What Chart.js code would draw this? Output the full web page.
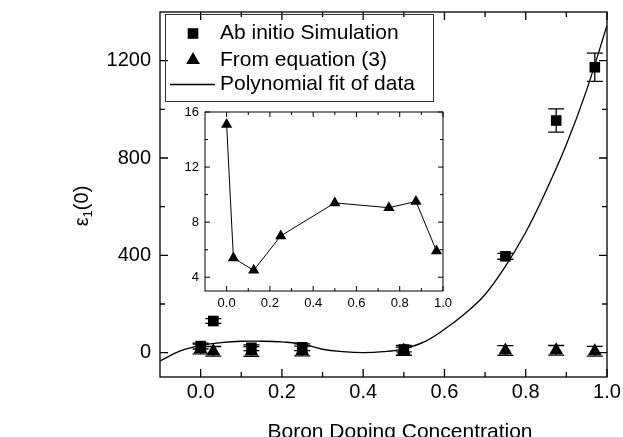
<!DOCTYPE html>
<html>
<head>
<meta charset="utf-8">
<script src="https://cdn.jsdelivr.net/npm/chart.js@4/dist/chart.umd.min.js"></script>
<style>
  html, body { margin: 0; padding: 0; background: #fff; overflow: hidden; }
  #wrap { position: relative; width: 623px; height: 437px; overflow: hidden; }
  #main { position: absolute; left: 0; top: 0; }
  #inset { position: absolute; left: 150px; top: 100px; }
</style>
</head>
<body>
<div id="wrap">
  <canvas id="main" width="623" height="445"></canvas>
  <canvas id="inset" width="310" height="220"></canvas>
</div>
<script>
// boron concentration of the simulated structures
const concentration = [0.0, 0.03125, 0.125, 0.25, 0.5, 0.75, 0.875, 0.97];
const abInitio = [27, 130, 20, 22, 13, 396, 954, 1173];
const abInitioErr = [12, 10, 12, 14, 10, 12, 48, 58];
const fromEquation = [15.1, 5.4, 4.5, 7.0, 9.4, 9.05, 9.5, 5.9];
const fromEquationErr = [20, 20, 20, 20, 20, 20, 20, 20];

// polynomial fit
const fitX = [-0.1, -0.05, 0, 0.05, 0.1, 0.15, 0.2, 0.25, 0.3, 0.35, 0.4, 0.45, 0.5,
              0.55, 0.6, 0.65, 0.7, 0.75, 0.8, 0.85, 0.9, 0.95, 1.0];
const fitY = [-34, 7, 30, 41, 47, 47, 44, 36, 14, 4, 0, 4, 16,
              44, 96, 160, 239, 355, 495, 665, 855, 1080, 1345];

const xTicks = [0, 0.2, 0.4, 0.6, 0.8, 1.0];
const xMinor = [0.1, 0.3, 0.5, 0.7, 0.9];
const yTicks = [0, 400, 800, 1200];
const yMinor = [200, 600, 1000];
const insetYTicks = [4, 8, 12, 16];
const insetYMinor = [6, 10, 14];

const FONT = '"Liberation Sans", Arial, Helvetica, sans-serif';
Chart.defaults.font.family = FONT;
Chart.defaults.color = '#000';

function pts(xs, ys) {
    return xs.map((x, i) => ({ x: x, y: ys[i] }));
}

// fixed axis boxes so the plot area lands where the original is
function fixSize(prop, size) {
    return s => {
        s[prop] = size;
        s.paddingTop = 0; s.paddingBottom = 0;
        s.paddingLeft = 0; s.paddingRight = 0;
    };
}

// vertical error bars with caps, drawn under the markers
const errorBars = {
    id: 'errorBars',
    beforeDatasetsDraw(chart) {
        const ctx = chart.ctx;
        const y = chart.scales.y;
        chart.data.datasets.forEach((ds, i) => {
            if (!ds.errors) return;
            const meta = chart.getDatasetMeta(i);
            ctx.save();
            ctx.strokeStyle = '#000';
            ctx.lineWidth = 1.3;
            meta.data.forEach((pt, j) => {
                const v = ds.data[j].y, e = ds.errors[j];
                const top = y.getPixelForValue(v + e);
                const bot = y.getPixelForValue(v - e);
                ctx.beginPath();
                ctx.moveTo(pt.x, top); ctx.lineTo(pt.x, bot);
                ctx.moveTo(pt.x - 8, top); ctx.lineTo(pt.x + 8, top);
                ctx.moveTo(pt.x - 8, bot); ctx.lineTo(pt.x + 8, bot);
                ctx.stroke();
            });
            ctx.restore();
        });
    }
};

// closed box with inward ticks on all four sides
const frame = {
    id: 'frame',
    afterDraw(chart, args, o) {
        const { ctx, chartArea: a, scales: { x, y } } = chart;
        ctx.save();
        ctx.strokeStyle = '#000';
        ctx.lineWidth = o.lineWidth;
        ctx.strokeRect(a.left, a.top, a.right - a.left, a.bottom - a.top);
        ctx.beginPath();
        const xt = (vals, len) => vals.forEach(v => {
            const p = x.getPixelForValue(v);
            ctx.moveTo(p, a.bottom); ctx.lineTo(p, a.bottom - len);
            ctx.moveTo(p, a.top); ctx.lineTo(p, a.top + len);
        });
        const yt = (vals, len) => vals.forEach(v => {
            const p = y.getPixelForValue(v);
            ctx.moveTo(a.left, p); ctx.lineTo(a.left + len, p);
            ctx.moveTo(a.right, p); ctx.lineTo(a.right - len, p);
        });
        xt(o.xMajor, o.major);
        xt(o.xMinor, o.minor);
        yt(o.yMajor, o.major);
        yt(o.yMinor, o.minor);
        ctx.stroke();
        ctx.restore();
    }
};

const boxLegend = {
    id: 'boxLegend',
    afterDraw(chart) {
        const ctx = chart.ctx;
        const rows = [33.5, 60, 84.5];
        ctx.save();
        ctx.strokeStyle = '#333';
        ctx.lineWidth = 1;
        ctx.strokeRect(165.5, 14.5, 268, 87);
        ctx.fillStyle = '#000';
        ctx.strokeStyle = '#000';
        ctx.font = '21px ' + FONT;
        ctx.textBaseline = 'middle';
        chart.data.datasets.forEach((ds, i) => {
            const ry = rows[i];
            if (ds.showLine) {
                ctx.lineWidth = 1.3;
                ctx.beginPath();
                ctx.moveTo(170, ry); ctx.lineTo(215, ry);
                ctx.stroke();
            } else {
                Chart.helpers.drawPoint(ctx, {
                    pointStyle: ds.pointStyle, radius: ds.pointRadius, borderWidth: 0, rotation: 0
                }, 193, ry);
            }
            ctx.fillText(ds.label, 220, ry);
        });
        ctx.restore();
    }
};

const axisTitles = {
    id: 'axisTitles',
    afterDraw(chart) {
        const ctx = chart.ctx;
        ctx.save();
        ctx.fillStyle = '#000';
        ctx.font = '21px ' + FONT;
        ctx.textAlign = 'center';
        ctx.textBaseline = 'middle';
        ctx.fillText('Boron Doping Concentration', 400, 432);

        ctx.translate(82, 206);
        ctx.rotate(-Math.PI / 2);
        ctx.textAlign = 'left';
        ctx.font = '20px ' + FONT;
        const wE = ctx.measureText('ε').width;
        const wP = ctx.measureText('(0)').width;
        ctx.font = '13px ' + FONT;
        const wS = ctx.measureText('1').width;
        let cx = -(wE + wS + wP) / 2;
        ctx.font = '20px ' + FONT;
        ctx.fillText('ε', cx, 0);
        cx += wE;
        ctx.font = '13px ' + FONT;
        ctx.fillText('1', cx, 6);
        cx += wS;
        ctx.font = '20px ' + FONT;
        ctx.fillText('(0)', cx, 0);
        ctx.restore();
    }
};

new Chart(document.getElementById('main'), {
    type: 'scatter',
    data: {
        datasets: [{
            label: 'Ab initio Simulation',
            data: pts(concentration, abInitio),
            errors: abInitioErr,
            pointStyle: 'rect',
            pointRadius: 7.5,
            pointBorderWidth: 0,
            backgroundColor: '#000',
            borderColor: '#000',
            showLine: false
        }, {
            label: 'From equation (3)',
            data: pts(concentration, fromEquation),
            errors: fromEquationErr,
            pointStyle: 'triangle',
            pointRadius: 8,
            pointBorderWidth: 0,
            backgroundColor: '#000',
            borderColor: '#000',
            showLine: false
        }, {
            label: 'Polynomial fit of data',
            data: pts(fitX, fitY),
            showLine: true,
            pointRadius: 0,
            borderColor: '#000',
            borderWidth: 1.3,
            tension: 0.4,
            fill: false
        }]
    },
    options: {
        responsive: false,
        animation: false,
        events: [],
        layout: { padding: { left: 0, right: 16, top: 12, bottom: 0 } },
        plugins: {
            legend: { display: false },
            tooltip: { enabled: false },
            frame: { lineWidth: 1.3, major: 8, minor: 5, xMajor: xTicks, xMinor: xMinor, yMajor: yTicks, yMinor: yMinor }
        },
        scales: {
            x: {
                type: 'linear', min: -0.1, max: 1.0,
                grid: { display: false, drawTicks: false },
                border: { display: false },
                afterBuildTicks: s => { s.ticks = xTicks.map(v => ({ value: v })); },
                afterFit: fixSize('height', 68),
                ticks: { font: { size: 20 }, padding: 3, maxRotation: 0, callback: v => v.toFixed(1) }
            },
            y: {
                type: 'linear', min: -100, max: 1400,
                grid: { display: false, drawTicks: false },
                border: { display: false },
                afterBuildTicks: s => { s.ticks = yTicks.map(v => ({ value: v })); },
                afterFit: fixSize('width', 160),
                ticks: { font: { size: 20 }, padding: 9, callback: v => String(v) }
            }
        }
    },
    plugins: [errorBars, frame, boxLegend, axisTitles]
});

// inset: equation (3) values on their own scale
new Chart(document.getElementById('inset'), {
    type: 'scatter',
    data: {
        datasets: [{
            label: 'From equation (3)',
            data: pts(concentration, fromEquation),
            showLine: true,
            tension: 0,
            borderColor: '#000',
            borderWidth: 1,
            backgroundColor: '#000',
            pointStyle: 'triangle',
            pointRadius: 6.5,
            pointBorderWidth: 0
        }]
    },
    options: {
        responsive: false,
        animation: false,
        events: [],
        layout: { padding: { left: 0, right: 17, top: 12, bottom: 0 } },
        plugins: {
            legend: { display: false },
            tooltip: { enabled: false },
            frame: { lineWidth: 1, major: 5, minor: 3, xMajor: xTicks, xMinor: xMinor, yMajor: insetYTicks, yMinor: insetYMinor }
        },
        scales: {
            x: {
                type: 'linear', min: -0.1, max: 1.0,
                grid: { display: false, drawTicks: false },
                border: { display: false },
                afterBuildTicks: s => { s.ticks = xTicks.map(v => ({ value: v })); },
                afterFit: fixSize('height', 29),
                ticks: { font: { size: 13 }, padding: 5, maxRotation: 0, callback: v => v.toFixed(1) }
            },
            y: {
                type: 'linear', min: 3, max: 16,
                grid: { display: false, drawTicks: false },
                border: { display: false },
                afterBuildTicks: s => { s.ticks = insetYTicks.map(v => ({ value: v })); },
                afterFit: fixSize('width', 55),
                ticks: { font: { size: 13 }, padding: 6, callback: v => String(v) }
            }
        }
    },
    plugins: [frame]
});
</script>
</body>
</html>
